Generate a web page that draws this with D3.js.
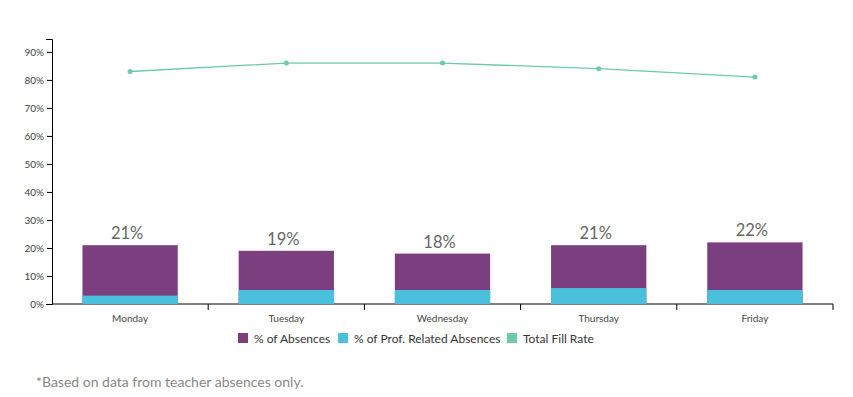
<!DOCTYPE html>
<html>
<head>
<meta charset="utf-8">
<script src="https://cdn.jsdelivr.net/npm/d3@7"></script>
<style>
  body { margin: 0; background: #fff; font-family: Lato, "Open Sans", sans-serif; }
  .axis text { font-size: 10px; fill: #444; font-family: Lato, sans-serif; }
  .axis path, .axis line { stroke: #000; }
</style>
</head>
<body>
<svg id="chart" width="853" height="397"></svg>
<script>
// Chart data
const days = ['Monday', 'Tuesday', 'Wednesday', 'Thursday', 'Friday'];
const absences = [21, 19, 18, 21, 22];
const profAbsences = [3, 5, 5, 5.7, 5];
const fillRate = [83, 86, 86, 84, 81];
const yTicks = [0, 10, 20, 30, 40, 50, 60, 70, 80, 90];
const legendLabels = ['% of Absences', '% of Prof. Related Absences', 'Total Fill Rate'];

const colors = {
  absences: '#7b3f80',
  prof: '#4bc0dd',
  fill: '#6cc9ae',
};

const margin = { top: 39, left: 52, right: 20 };
const plotWidth = 781;
const plotHeight = 265;

const svg = d3.select('#chart');
const g = svg.append('g')
  .attr('transform', `translate(${margin.left}, ${margin.top})`);

const x = d3.scaleBand()
  .domain(days)
  .range([0, plotWidth])
  .paddingInner(0.39)
  .paddingOuter(0.195);

// band centres for the line, using full step bands
const xStep = d3.scaleBand().domain(days).range([0, plotWidth]);

const yMax = d3.max(fillRate) * 1.1;
const y = d3.scaleLinear()
  .domain([0, yMax])
  .range([plotHeight, 0]);

// Y axis
g.append('g')
  .attr('class', 'axis')
  .call(d3.axisLeft(y).tickValues(yTicks).tickFormat(d => d + '%').tickSize(5).tickSizeOuter(6));

// X axis with ticks at band boundaries
const xAxis = g.append('g')
  .attr('class', 'axis')
  .attr('transform', `translate(0, ${plotHeight})`);
xAxis.append('path')
  .attr('d', `M0,0H${plotWidth}`)
  .attr('stroke', '#000');
const bounds = days.map(d => xStep(d)).concat([plotWidth]);
xAxis.selectAll('line.tick')
  .data(bounds.slice(1))
  .join('line')
  .attr('x1', d => d).attr('x2', d => d)
  .attr('y1', 0).attr('y2', 6)
  .attr('stroke', '#000');
xAxis.selectAll('text')
  .data(days)
  .join('text')
  .attr('x', d => xStep(d) + xStep.bandwidth() / 2)
  .attr('y', 18)
  .attr('text-anchor', 'middle')
  .text(d => d);

// Total absences bars
g.selectAll('rect.abs')
  .data(days)
  .join('rect')
  .attr('class', 'abs')
  .attr('x', d => x(d))
  .attr('width', x.bandwidth())
  .attr('y', (d, i) => y(absences[i]))
  .attr('height', (d, i) => plotHeight - y(absences[i]))
  .attr('fill', colors.absences);

// Professional related absences bars
g.selectAll('rect.prof')
  .data(days)
  .join('rect')
  .attr('class', 'prof')
  .attr('x', d => x(d))
  .attr('width', x.bandwidth())
  .attr('y', (d, i) => y(profAbsences[i]))
  .attr('height', (d, i) => plotHeight - y(profAbsences[i]))
  .attr('fill', colors.prof);

// Bar value labels
g.selectAll('text.val')
  .data(days)
  .join('text')
  .attr('class', 'val')
  .attr('x', d => x(d) + x.bandwidth() / 2 - 3)
  .attr('y', (d, i) => y(absences[i]) - 6)
  .attr('text-anchor', 'middle')
  .attr('font-size', '16.5px')
  .attr('fill', '#666')
  .text((d, i) => absences[i] + '%');

// Fill rate line
const line = d3.line()
  .x((d, i) => xStep(days[i]) + xStep.bandwidth() / 2)
  .y(d => y(d));

g.append('path')
  .datum(fillRate)
  .attr('d', line)
  .attr('fill', 'none')
  .attr('stroke', colors.fill)
  .attr('stroke-width', 1.3);

g.selectAll('circle.pt')
  .data(fillRate)
  .join('circle')
  .attr('class', 'pt')
  .attr('cx', (d, i) => xStep(days[i]) + xStep.bandwidth() / 2)
  .attr('cy', d => y(d))
  .attr('r', 2.5)
  .attr('fill', colors.fill);

// Legend
const legendColors = [colors.absences, colors.prof, colors.fill];
const legendX = [238, 338, 507];
const legend = svg.append('g').attr('transform', 'translate(0, 333)');
legendLabels.forEach((label, i) => {
  legend.append('rect')
    .attr('x', legendX[i]).attr('y', 0)
    .attr('width', 10).attr('height', 10)
    .attr('fill', legendColors[i]);
  legend.append('text')
    .attr('x', legendX[i] + 16).attr('y', 9.5)
    .attr('font-size', '12px')
    .attr('fill', '#333')
    .text(label);
});

// Footnote
svg.append('text')
  .attr('x', 36).attr('y', 387)
  .attr('font-size', '14px')
  .attr('fill', '#888')
  .text('*Based on data from teacher absences only.');
</script>
</body>
</html>
